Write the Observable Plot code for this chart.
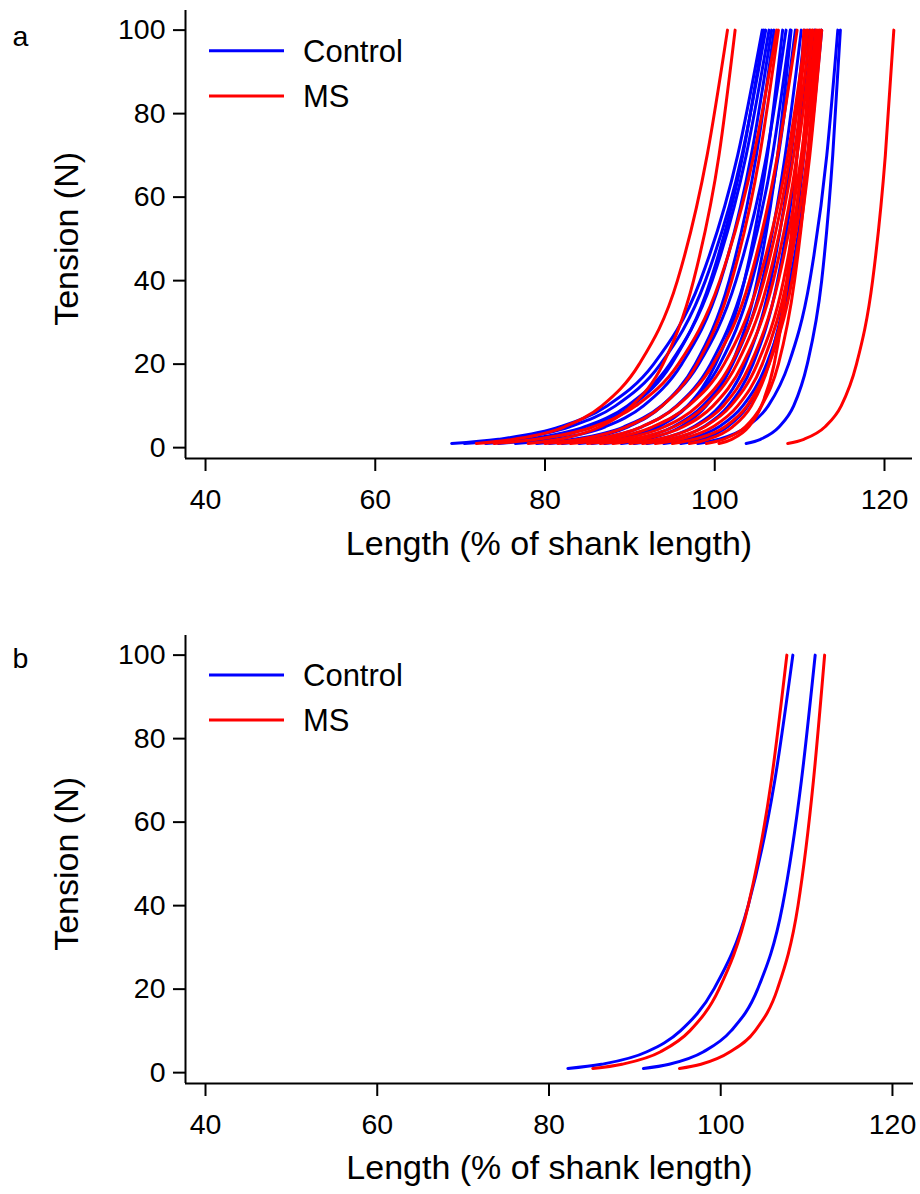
<!DOCTYPE html>
<html>
<head>
<meta charset="utf-8">
<script src="https://cdn.jsdelivr.net/npm/d3@7"></script>
<script src="https://cdn.jsdelivr.net/npm/@observablehq/plot@0.6"></script>
<style>
  body { margin: 0; background: #fff; }
  .panel { position: relative; width: 920px; }
  .panel svg.overlay { position: absolute; left: 0; top: 0; pointer-events: none; }
</style>
</head>
<body>
<div id="chart"></div>
<script>
// Tension levels (N) at which the length of every curve was read
const tensionLevels = [1, 2, 5, 10, 20, 40, 70, 100];

// Panel a: length (% of shank length) at each tension level, one row per specimen
const controlA = [
  [69.0, 74.5, 81.8, 87.3, 92.8, 98.3, 102.7, 105.6],
  [70.5, 75.8, 82.9, 88.3, 93.6, 98.9, 103.2, 106.0],
  [73.0, 78.0, 84.7, 89.7, 94.7, 99.7, 103.7, 106.4],
  [74.5, 79.2, 85.5, 90.2, 94.9, 99.5, 103.3, 105.8],
  [76.5, 81.0, 87.1, 91.6, 96.1, 100.7, 104.3, 106.7],
  [79.0, 83.4, 89.3, 93.7, 98.1, 102.5, 106.1, 108.4],
  [80.5, 84.5, 89.8, 93.8, 97.7, 101.7, 104.9, 107.0],
  [82.0, 86.0, 91.4, 95.5, 99.5, 103.5, 106.8, 108.9],
  [84.0, 87.8, 92.9, 96.8, 100.6, 104.4, 107.5, 109.5],
  [85.5, 88.9, 93.4, 96.8, 100.1, 103.5, 106.2, 108.0],
  [87.0, 90.5, 95.1, 98.6, 102.1, 105.6, 108.3, 110.2],
  [89.0, 92.0, 96.0, 99.0, 102.0, 105.0, 107.4, 109.0],
  [90.5, 93.5, 97.5, 100.6, 103.6, 106.6, 109.0, 110.6],
  [92.0, 94.9, 98.7, 101.6, 104.5, 107.4, 109.7, 111.2],
  [94.0, 96.8, 100.5, 103.3, 106.1, 108.9, 111.1, 112.6],
  [96.0, 98.4, 101.5, 103.9, 106.3, 108.6, 110.5, 111.8],
  [98.0, 100.5, 103.8, 106.3, 108.7, 111.2, 113.2, 114.5],
  [103.7, 105.4, 107.6, 109.3, 110.9, 112.6, 113.9, 114.8]
];
const msA = [
  [71.9, 76.3, 82.3, 86.7, 91.1, 95.6, 99.1, 101.5],
  [78.0, 81.7, 86.5, 90.2, 93.9, 97.5, 100.5, 102.4],
  [74.0, 79.0, 85.7, 90.7, 95.7, 100.6, 104.6, 107.3],
  [80.0, 84.1, 89.6, 93.8, 97.9, 102.0, 105.3, 107.5],
  [81.5, 85.7, 91.4, 95.6, 99.8, 104.1, 107.4, 109.7],
  [83.0, 87.2, 92.7, 96.9, 101.1, 105.2, 108.6, 110.8],
  [85.0, 88.9, 94.1, 98.0, 101.9, 105.8, 108.9, 111.0],
  [86.5, 90.2, 95.2, 98.9, 102.6, 106.3, 109.3, 111.3],
  [88.0, 91.5, 96.3, 99.8, 103.3, 106.9, 109.7, 111.6],
  [90.0, 93.3, 97.7, 101.0, 104.2, 107.5, 110.2, 111.9],
  [91.5, 94.6, 98.8, 101.9, 105.0, 108.1, 110.5, 112.2],
  [93.0, 95.9, 99.8, 102.7, 105.6, 108.5, 110.9, 112.4],
  [95.0, 97.6, 101.2, 103.8, 106.4, 109.1, 111.2, 112.6],
  [97.0, 99.2, 102.1, 104.3, 106.4, 108.6, 110.3, 111.5],
  [99.0, 101.0, 103.6, 105.5, 107.5, 109.4, 111.0, 112.0],
  [100.5, 102.0, 104.0, 105.5, 107.0, 108.5, 109.7, 110.5],
  [108.6, 110.5, 113.0, 114.9, 116.7, 118.6, 120.1, 121.1]
];

// Panel b: group curves
const controlB = [
  [82.2, 86.1, 91.4, 95.3, 99.2, 103.2, 106.3, 108.4],
  [91.0, 94.0, 98.0, 101.2, 104.3, 107.2, 109.4, 111.0]
];
const msB = [
  [85.1, 88.5, 93.0, 96.4, 99.8, 103.2, 105.9, 107.7],
  [95.2, 97.7, 101.1, 104.0, 106.6, 109.0, 110.8, 112.1]
];

const xTicks = [40, 60, 80, 100, 120];
const yTicks = [0, 20, 40, 60, 80, 100];
const groups = ["Control", "MS"];
const groupColors = ["#0000ff", "#ff0000"];
const panelLabels = ["a", "b"];
const xTitle = "Length (% of shank length)";
const yTitle = "Tension (N)";

const FONT = "'Liberation Sans', Arial, Helvetica, sans-serif";

function toRows(curves, group, prefix) {
  const rows = [];
  curves.forEach((ls, i) => {
    ls.forEach((L, j) => rows.push({group, id: prefix + group + i, L, T: tensionLevels[j]}));
  });
  return rows;
}

function makePanel(cfg) {
  const rows = [
    ...toRows(cfg.control, groups[0], cfg.label),
    ...toRows(cfg.ms, groups[1], cfg.label)
  ];
  const yDomain = [-2.6, 104.7];
  const plot = Plot.plot({
    width: 920,
    height: cfg.height,
    marginLeft: 185,
    marginRight: cfg.marginRight,
    marginTop: cfg.marginTop,
    marginBottom: cfg.marginBottom,
    x: {domain: cfg.xDomain},
    y: {domain: yDomain},
    color: {domain: groups, range: groupColors},
    style: {fontFamily: FONT, fontSize: "28.5px", background: "white", color: "black", overflow: "visible"},
    marks: [
      Plot.line(rows, {x: "L", y: "T", z: "id", stroke: "group", strokeWidth: 3, curve: "monotone-x"}),
      Plot.ruleX([cfg.xDomain[0]], {stroke: "black", strokeWidth: 2}),
      Plot.ruleY([yDomain[0]], {stroke: "black", strokeWidth: 2}),
      Plot.axisX({ticks: xTicks, tickSize: 13, tickPadding: 17, fontSize: 28.5, strokeWidth: 2, label: null}),
      Plot.axisY({ticks: yTicks, tickSize: 12, tickPadding: 8, fontSize: 28.5, strokeWidth: 2, label: null}),
      Plot.text([xTitle], {frameAnchor: "bottom", dy: cfg.xTitleDy, fontSize: 34}),
      Plot.text([yTitle], {x: () => cfg.xDomain[0], y: () => 50, rotate: -90, dx: -118, fontSize: 34}),
      Plot.text([cfg.label], {frameAnchor: "top-left", dx: -173, dy: cfg.labelDy, textAnchor: "start", fontSize: 28.5})
    ]
  });
  const wrap = document.createElement("div");
  wrap.className = "panel";
  wrap.appendChild(plot);
  // legend overlay (inside the plotting area, top-left)
  const ov = d3.create("svg").attr("class", "overlay").attr("width", 920).attr("height", cfg.height);
  groups.forEach((g, i) => {
    const y = cfg.legendY[i];
    ov.append("line").attr("x1", 209).attr("x2", 284).attr("y1", y).attr("y2", y)
      .attr("stroke", groupColors[i]).attr("stroke-width", 3);
    ov.append("text").attr("x", 303).attr("y", y).attr("dy", "0.35em")
      .attr("font-family", FONT).attr("font-size", 31).attr("fill", "black").text(g);
  });
  wrap.appendChild(ov.node());
  return wrap;
}

const chart = document.getElementById("chart");
chart.appendChild(makePanel({
  label: panelLabels[0], control: controlA, ms: msA,
  height: 590, marginTop: 10, marginBottom: 132, marginRight: 8,
  xDomain: [37.64, 123.3], xTitleDy: 96, labelDy: 15, legendY: [50.7, 96]
}));
chart.appendChild(makePanel({
  label: panelLabels[1], control: controlB, ms: msB,
  height: 604, marginTop: 45, marginBottom: 111, marginRight: 7,
  xDomain: [37.67, 122.45], xTitleDy: 95, labelDy: 12, legendY: [85, 130]
}));
</script>
</body>
</html>
